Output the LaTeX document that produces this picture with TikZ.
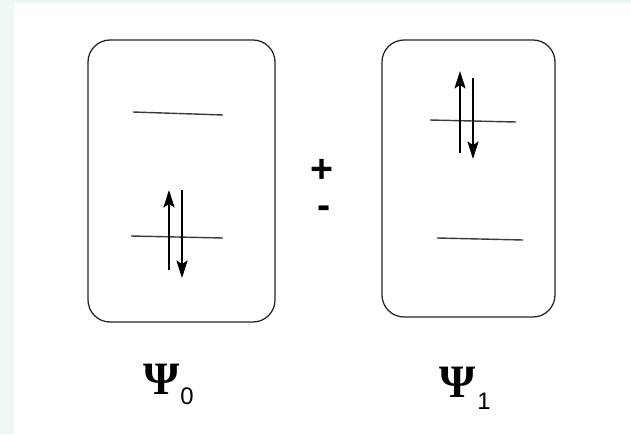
\documentclass[tikz,border=0pt]{standalone}
\usepackage{fontspec}
\setmainfont{Liberation Sans}
\newfontfamily\greekfont{Liberation Serif}
\usetikzlibrary{positioning, arrows.meta}
\definecolor{bgmint}{RGB}{238,248,243}
\definecolor{levelgray}{RGB}{60,60,60}

\begin{document}
\begin{tikzpicture}[x=0.025cm, y=-0.025cm]
    \tikzset{
      config/.style={draw=black!85, line width=0.9pt, rounded corners=0.55cm},
      level/.style={draw=levelgray, line width=1pt},
      spin/.style={draw=black, line width=1pt, -{Stealth[length=4.4mm,width=2.8mm,inset=0.9mm]}},
      sign/.style={font=\fontsize{28}{28}\selectfont\bfseries, inner sep=0pt,
        text height=0.55em, text depth=0pt},
      psi/.style={font=\greekfont\fontsize{33}{33}\selectfont\bfseries, inner sep=0pt},
      sub/.style={font=\fontsize{17}{17}\selectfont, inner sep=0pt}
    }

    % background
    \fill[bgmint] (0,0) rectangle (631,434);
    \fill[white] (14,3) rectangle (631,434);
    \useasboundingbox (0,0) rectangle (631,434);

    % Box 1
    \draw[config] (88,40) rectangle (275,322);
    \coordinate (a1) at (133,112); \coordinate (a2) at (223,115);
    \coordinate (b1) at (131,236); \coordinate (b2) at (223,238);
    \draw[level] (a1) -- (a2);
    \draw[level] (b1) -- (b2);
    \coordinate (u1) at (169,270); \coordinate (u2) at (169,190);
    \coordinate (d1) at (182,190); \coordinate (d2) at (182,278);
    \draw[spin] (u1) -- (u2);
    \draw[spin] (d1) -- (d2);

    % Box 2
    \draw[config] (382,40) rectangle (555,317);
    \coordinate (c1) at (430,120); \coordinate (c2) at (516,122);
    \coordinate (e1) at (437,238); \coordinate (e2) at (523,240);
    \draw[level] (c1) -- (c2);
    \draw[level] (e1) -- (e2);
    \coordinate (v1) at (460,153); \coordinate (v2) at (460,71);
    \coordinate (w1) at (473,78); \coordinate (w2) at (473,159);
    \draw[spin] (v1) -- (v2);
    \draw[spin] (w1) -- (w2);

    % plus / minus
    \node[sign] (plus) at (322,179) {+};
    \node[sign] (minus) at (324,215) {-};

    % labels
    \node[psi] (psi0) at (162,379) {Ψ};
    \node[sub] (sub0) at (187,396) {0};
    \node[psi] (psi1) at (458,382) {Ψ};
    \node[sub] (sub1) at (484,401) {1};
\end{tikzpicture}
\end{document}
